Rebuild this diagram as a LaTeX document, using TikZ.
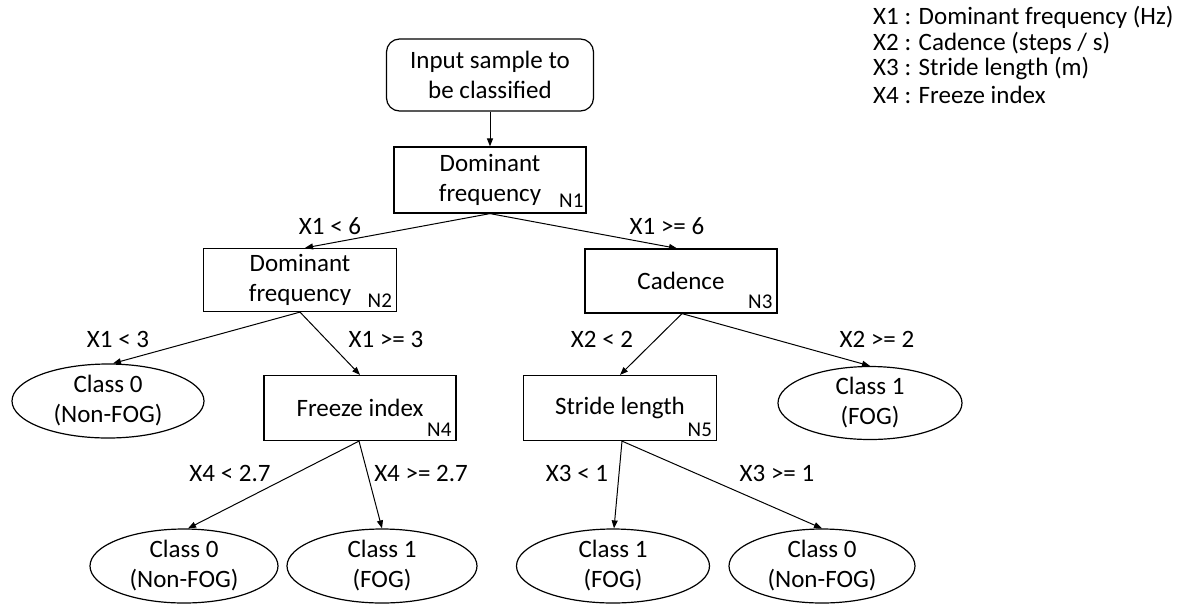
\documentclass[tikz,border=0pt]{standalone}
\usepackage{fontspec}
\setmainfont{Carlito}
\usetikzlibrary{arrows.meta,shapes.geometric}
\begin{document}
\begin{tikzpicture}[x=1pt,y=-1pt,
  every node/.style={font=\fontsize{25}{30}\selectfont, inner sep=0pt},
  box/.style={draw, line width=1.2pt, minimum width=192pt, minimum height=65pt, align=center},
  startbox/.style={box, rounded corners=13pt, minimum width=207pt, minimum height=72pt},
  leaf/.style={draw, ellipse, line width=1.2pt, minimum width=190pt, minimum height=74pt, align=center},
  tag/.style={font=\fontsize{21}{22}\selectfont, anchor=base east},
  cond/.style={anchor=center},
  legend/.style={anchor=west},
  conn/.style={line width=1pt, -{Triangle[length=8pt,width=6pt]}}
]
\useasboundingbox (0,0) rectangle (1183,606);

% legend
\node[legend] (l1) at (873,17) {X1 : Dominant frequency (Hz)};
\node[legend] (l2) at (873,43) {X2 : Cadence (steps / s)};
\node[legend] (l3) at (873,69) {X3 : Stride length (m)};
\node[legend] (l4) at (873,95) {X4 : Freeze index};

% nodes
\node[startbox] (inp) at (490,75) {Input sample to\\be classified};
\node[box, minimum height=66pt] (n1) at (490,180) {Dominant\\frequency};
\node[tag] (t1) at ([xshift=-3pt,yshift=6pt]n1.south east) {N1};
\node[box, minimum height=63pt, minimum width=193pt] (n2) at (300,280) {Dominant\\frequency};
\node[tag] (t2) at ([xshift=-5pt,yshift=5pt]n2.south east) {N2};
\node[box, minimum height=64pt] (n3) at (681,281) {Cadence};
\node[tag] (t3) at ([xshift=-5pt,yshift=5pt]n3.south east) {N3};
\node[box] (n4) at (360,408) {Freeze index};
\node[tag] (t4) at ([xshift=-5pt,yshift=5pt]n4.south east) {N4};
\node[box, minimum width=193pt] (n5) at (620,408) {Stride length};
\node[tag] (t5) at ([xshift=-5pt,yshift=5pt]n5.south east) {N5};

\node[leaf, minimum width=192pt] (e1) at (108,401) {Class 0\\(Non-FOG)};
\node[leaf, minimum width=184pt, minimum height=73pt] (e2) at (870,403) {Class 1\\(FOG)};
\node[leaf, minimum width=188pt] (e3) at (184,566) {Class 0\\(Non-FOG)};
\node[leaf] (e4) at (382,566) {Class 1\\(FOG)};
\node[leaf, minimum width=193pt] (e5) at (613,566) {Class 1\\(FOG)};
\node[leaf, minimum width=186pt] (e6) at (822,566) {Class 0\\(Non-FOG)};

% connectors
\draw[conn] (inp.south) -- (n1.north);
\draw[conn] (n1.south) -- ([xshift=5pt]n2.north);
\draw[conn] (n1.south) -- ([xshift=-4pt]n3.north);
\draw[conn] (n2.south) -- ([xshift=5pt]e1.north);
\draw[conn] (n2.south) -- (n4.north);
\draw[conn] ([xshift=1pt]n3.south) -- (n5.north);
\draw[conn] ([xshift=1pt]n3.south) -- (e2.north);
\draw[conn] ([xshift=-1pt]n4.south) -- ([xshift=4pt]e3.north);
\draw[conn] ([xshift=-1pt]n4.south) -- (e4.north);
\draw[conn] ([xshift=2pt]n5.south) -- ([xshift=1pt]e5.north);
\draw[conn] ([xshift=2pt]n5.south) -- (e6.north);

% conditions
\node[cond] (c1) at (330,226) {X1 < 6};
\node[cond] (c2) at (667,226) {X1 >= 6};
\node[cond] (c3) at (118,339) {X1 < 3};
\node[cond] (c4) at (386,339) {X1 >= 3};
\node[cond] (c5) at (602,339) {X2 < 2};
\node[cond] (c6) at (877,339) {X2 >= 2};
\node[cond] (c7) at (230,473) {X4 < 2.7};
\node[cond] (c8) at (421,473) {X4 >= 2.7};
\node[cond] (c9) at (577,473) {X3 < 1};
\node[cond] (c10) at (777,473) {X3 >= 1};
\end{tikzpicture}
\end{document}
